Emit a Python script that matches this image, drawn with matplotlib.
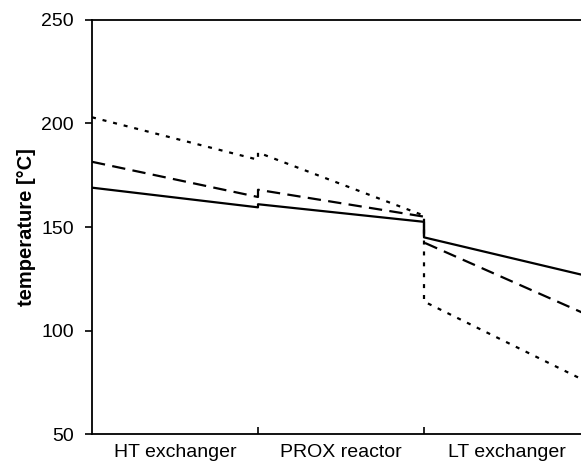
import matplotlib
matplotlib.use("Agg")
import matplotlib.pyplot as plt

plt.rcParams['font.family'] = ['Liberation Sans', 'DejaVu Sans']

# Abschnitte entlang der Prozesskette
sections = ['HT exchanger', 'PROX reactor', 'LT exchanger']

# Temperatur am Ein- und Austritt jedes Abschnitts (Eintritt, Austritt)
temp_solid = [169, 159.5, 161, 152.5, 145, 126]
temp_dashed = [181.5, 164.5, 168, 155, 142.5, 107]
temp_dotted = [203, 182.5, 186, 155.5, 114, 74.5]

# x-Positionen: Anfang und Ende jedes Abschnitts
x_pos = [0, 1, 1, 2, 2, 3]

fig = plt.figure(figsize=(5.81, 4.65), dpi=100)
ax = fig.add_axes([92 / 581, 31 / 465, 498 / 581, 414 / 465])

ax.plot(x_pos, temp_solid, color='black', lw=1.6, ls='-')
ax.plot(x_pos, temp_dashed, color='black', lw=1.6, ls=(0, (6, 3.3)))
ax.plot(x_pos, temp_dotted, color='black', lw=1.6, ls=(0, (1.8, 3.1)))

ax.set_xlim(0, 3)
ax.set_ylim(50, 250)
ax.set_yticks([50, 100, 150, 200, 250])

# Abschnittsgrenzen als Ticks, Namen mittig darunter
ax.set_xticks([1, 2])
ax.set_xticklabels([])
ax.set_xticks([0.5, 1.5, 2.5], minor=True)
ax.set_xticklabels(sections, minor=True)
ax.tick_params(axis='x', which='major', direction='in', length=5, width=1.2)
ax.tick_params(axis='x', which='minor', length=0, labelsize=14, pad=7)
ax.tick_params(axis='y', direction='out', length=5, width=1.2, labelsize=14, pad=8)

for sp in ax.spines.values():
    sp.set_linewidth(1.3)

ax.set_ylabel('temperature [°C]', fontsize=14.5, fontweight='bold', labelpad=4)

fig.savefig('out.png', dpi=100)
